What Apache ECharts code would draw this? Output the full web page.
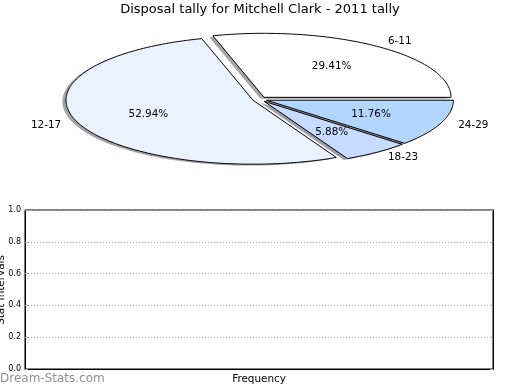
<!DOCTYPE html>
<html>
<head>
<meta charset="utf-8">
<script src="https://cdn.jsdelivr.net/npm/echarts@6/dist/echarts.min.js"></script>
<style>html,body{margin:0;padding:0;background:#fff}#c{width:520px;height:390px}</style>
</head>
<body>
<div id="c"></div>
<script>
// ---- data ----
const titleText = 'Disposal tally for Mitchell Clark - 2011 tally';
const categories = ['6-11', '12-17', '18-23', '24-29'];
const counts = [5, 9, 1, 2];
const sliceColors = ['#ffffff', '#ebf2ff', '#c6dbff', '#b3d6ff'];
const yTicks = [0, 0.2, 0.4, 0.6, 0.8, 1.0];
const xAxisName = 'Frequency';
const yAxisName = 'Stat Intervals';
const watermark = 'Dream-Stats.com';

// ---- pie geometry (layout) ----
const PIE = { cx: 259.7, cy: 99.3, rx: 187, ry: 64, explode: 0.0385, shadowDx: -3.6, shadowDy: 1.4 };
const FONT = 'DejaVu Sans';
const total = counts.reduce((a, b) => a + b, 0);
const starts = [];
{ let acc = 0; counts.forEach(v => { starts.push(acc); acc += v; }); }

function hexToRgb(h) {
  const n = parseInt(h.slice(1), 16);
  return [(n >> 16) & 255, (n >> 8) & 255, n & 255];
}

function renderSlice(params, api) {
  const i = params.dataIndex;
  const v = api.value(1);
  const a0 = starts[i] / total * 2 * Math.PI;
  const a1 = a0 + v / total * 2 * Math.PI;
  const mid = (a0 + a1) / 2;
  const cx = PIE.cx + PIE.explode * PIE.rx * Math.cos(mid);
  const cy = PIE.cy - PIE.explode * PIE.ry * Math.sin(mid);
  const pts = [[cx, cy]];
  const steps = Math.max(4, Math.ceil((a1 - a0) / (Math.PI / 180)));
  for (let k = 0; k <= steps; k++) {
    const a = a0 + (a1 - a0) * k / steps;
    pts.push([cx + PIE.rx * Math.cos(a), cy - PIE.ry * Math.sin(a)]);
  }
  const spts = pts.map(p => [p[0] + PIE.shadowDx, p[1] + PIE.shadowDy]);
  const rgb = hexToRgb(sliceColors[i]);
  const shadowColor = 'rgba(' + rgb.map(c => Math.round(c * 0.3)).join(',') + ',0.5)';
  const lx = cx + 1.1 * PIE.rx * Math.cos(mid);
  const ly = cy - 1.1 * PIE.ry * Math.sin(mid);
  const px = cx + 0.6 * PIE.rx * Math.cos(mid);
  const py = cy - 0.6 * PIE.ry * Math.sin(mid);
  const pct = (v / total * 100).toFixed(2) + '%';
  return {
    type: 'group',
    children: [
      { type: 'polygon', z2: 1, shape: { points: spts }, style: { fill: shadowColor, stroke: null }, silent: true },
      { type: 'polygon', z2: 10, shape: { points: pts }, style: { fill: sliceColors[i], stroke: '#000', lineWidth: 1, lineJoin: 'miter' } },
      { type: 'text', z2: 20, x: lx, y: ly, style: { text: categories[i], fill: '#000', font: '10.4px "' + FONT + '"', align: Math.cos(mid) > 0 ? 'left' : 'right', verticalAlign: 'middle' } },
      { type: 'text', z2: 20, x: px, y: py, style: { text: pct, fill: '#000', font: '10.4px "' + FONT + '"', align: 'center', verticalAlign: 'middle' } }
    ]
  };
}

const chart = echarts.init(document.getElementById('c'), null, { renderer: 'canvas' });
chart.setOption({
  animation: false,
  backgroundColor: '#fff',
  textStyle: { fontFamily: FONT },
  title: {
    text: titleText, left: 'center', top: 3, padding: 0,
    textStyle: { fontSize: 13, fontWeight: 'normal', color: '#000', fontFamily: FONT }
  },
  grid: { left: 25, right: 27, top: 210, bottom: 21, show: true, borderColor: '#000', borderWidth: 1, backgroundColor: 'transparent', containLabel: false },
  xAxis: {
    type: 'value', min: 0, max: 1, interval: 0.2,
    name: xAxisName, nameLocation: 'middle', nameGap: 5,
    nameTextStyle: { fontSize: 10.4, color: '#000', fontFamily: FONT },
    axisLine: { show: true, lineStyle: { color: '#000', width: 1 } },
    axisTick: { show: false }, axisLabel: { show: false }, splitLine: { show: false }
  },
  yAxis: [{
    type: 'value', min: yTicks[0], max: yTicks[yTicks.length - 1], interval: 0.2,
    axisLine: { show: true, lineStyle: { color: '#000', width: 1 } },
    axisTick: { show: true, inside: true, length: 3, lineStyle: { color: '#aaa' } },
    axisLabel: { show: true, margin: 4, fontSize: 8, color: '#000', fontFamily: FONT, formatter: v => v.toFixed(1) },
    splitLine: { show: true, lineStyle: { color: '#aaa', type: [1, 2], width: 1 } }
  }, {
    type: 'value', position: 'right', min: yTicks[0], max: yTicks[yTicks.length - 1], interval: 0.2,
    axisLine: { show: true, lineStyle: { color: '#000', width: 1 } },
    axisTick: { show: true, inside: true, length: 3, lineStyle: { color: '#aaa' } },
    axisLabel: { show: false }, splitLine: { show: false }
  }],
  graphic: [
    { type: 'text', left: 0, top: 373, style: { text: watermark, fill: '#8f8f8f', font: '12px "' + FONT + '"' } },
    { type: 'text', x: 1, y: 290, rotation: Math.PI / 2, style: { text: yAxisName, fill: '#000', font: '10.4px "' + FONT + '"', align: 'center', verticalAlign: 'middle' } }
  ],
  series: [
    { type: 'line', xAxisIndex: 0, yAxisIndex: 0, data: [], silent: true },
    {
      type: 'custom', coordinateSystem: 'none',
      data: categories.map((c, i) => [c, counts[i]]),
      dimensions: ['category', 'count'],
      renderItem: renderSlice
    }
  ]
});
</script>
</body>
</html>
